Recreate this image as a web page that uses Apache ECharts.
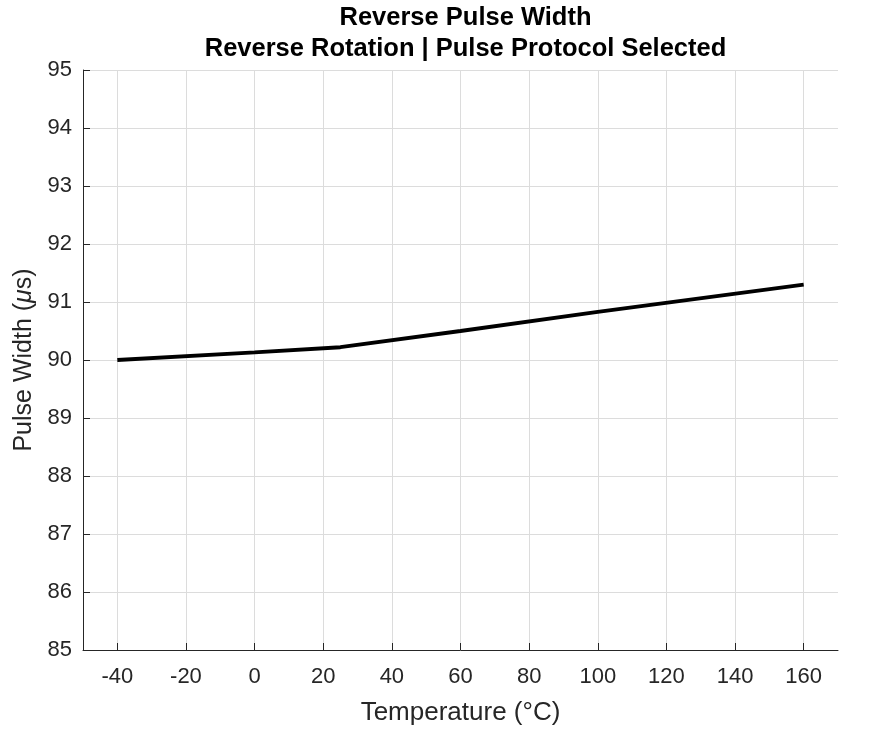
<!DOCTYPE html>
<html>
<head>
<meta charset="utf-8">
<script src="https://cdn.jsdelivr.net/npm/echarts@6/dist/echarts.min.js"></script>
<style>html,body{margin:0;padding:0;background:#fff;}#c{width:870px;height:735px;}</style>
</head>
<body>
<div id="c"></div>
<script>
const temperatures = [-40, 0, 25, 60, 100, 160];
const pulseWidth = [90.0, 90.13, 90.22, 90.50, 90.83, 91.30];
const xTicks = [-40, -20, 0, 20, 40, 60, 80, 100, 120, 140, 160];
const titleLines = ['Reverse Pulse Width', 'Reverse Rotation | Pulse Protocol Selected'];

const chart = echarts.init(document.getElementById('c'));
const font = 'Liberation Sans, Arial, Helvetica, sans-serif';
chart.setOption({
  animation: false,
  title: {
    text: titleLines.join('\n'),
    left: 460.5, top: -3, textAlign: 'center',
    textStyle: {fontFamily: font, fontSize: 25.5, fontWeight: 'bold', color: '#000', lineHeight: 31}
  },
  grid: {left: 83, right: 32, top: 70, bottom: 85},
  xAxis: {
    type: 'value', min: -50, max: 170,
    name: 'Temperature (°C)', nameLocation: 'middle', nameGap: 50,
    nameTextStyle: {fontFamily: font, fontSize: 26, color: '#262626'},
    axisLine: {show: true, onZero: false, lineStyle: {color: '#262626', width: 1}},
    axisTick: {show: true, inside: true, length: 7, customValues: xTicks, lineStyle: {color: '#262626'}},
    axisLabel: {customValues: xTicks, fontFamily: font, fontSize: 22, color: '#262626', margin: 16},
    splitLine: {show: true, lineStyle: {color: '#dcdcdc', width: 1}}
  },
  yAxis: {
    type: 'value', min: 85, max: 95, interval: 1,
    name: 'Pulse Width ({i|μ}s)', nameLocation: 'middle', nameGap: 46,
    nameTextStyle: {fontFamily: font, fontSize: 25, color: '#262626', rich: {i: {fontStyle: 'italic', fontFamily: font, fontSize: 25, color: '#262626'}}},
    axisLine: {show: true, onZero: false, lineStyle: {color: '#262626', width: 1}},
    axisTick: {show: true, inside: true, length: 7, lineStyle: {color: '#262626'}},
    axisLabel: {fontFamily: font, fontSize: 22, color: '#262626', margin: 11},
    splitLine: {show: true, lineStyle: {color: '#dcdcdc', width: 1}}
  },
  series: [{
    type: 'line',
    data: temperatures.map((t, i) => [t, pulseWidth[i]]),
    showSymbol: false, smooth: false,
    lineStyle: {color: '#000', width: 3.8},
    itemStyle: {color: '#000'}
  }]
});
</script>
</body>
</html>
